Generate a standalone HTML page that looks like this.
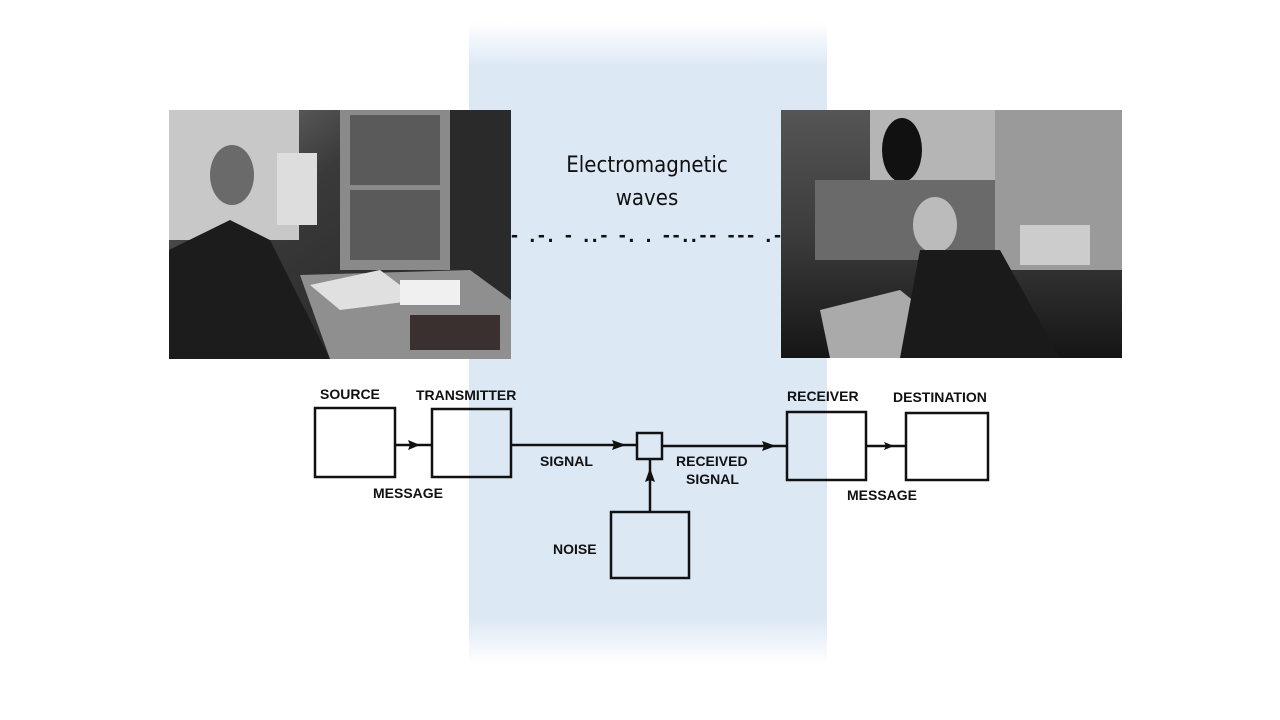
<!DOCTYPE html>
<html><head><style>
html,body{margin:0;padding:0;background:#fff;width:1280px;height:720px;overflow:hidden}
</style></head><body>
<svg width="1280" height="720" viewBox="0 0 1280 720" xmlns="http://www.w3.org/2000/svg" font-family="Liberation Sans, sans-serif">
<defs>
<linearGradient id="band" x1="0" y1="0" x2="0" y2="1">
<stop offset="0" stop-color="#dde8f5" stop-opacity="0"/>
<stop offset="0.07" stop-color="#dde8f5" stop-opacity="1"/>
<stop offset="0.93" stop-color="#dde8f5" stop-opacity="1"/>
<stop offset="1" stop-color="#dde8f5" stop-opacity="0"/>
</linearGradient>
<linearGradient id="lp" x1="0" y1="0" x2="1" y2="1">
<stop offset="0" stop-color="#777"/><stop offset="0.35" stop-color="#3a3a3a"/><stop offset="1" stop-color="#222"/>
</linearGradient>
<linearGradient id="rp" x1="0" y1="0" x2="0" y2="1">
<stop offset="0" stop-color="#555"/><stop offset="0.5" stop-color="#3c3c3c"/><stop offset="1" stop-color="#151515"/>
</linearGradient>
</defs>
<rect x="469" y="22" width="358" height="642" fill="url(#band)"/>

<!-- left photo -->
<rect x="169" y="110" width="342" height="249" fill="url(#lp)"/>
<rect x="169" y="110" width="130" height="130" fill="#c8c8c8"/>
<rect x="340" y="110" width="110" height="160" fill="#8a8a8a"/>
<rect x="350" y="115" width="90" height="70" fill="#5a5a5a"/>
<rect x="350" y="190" width="90" height="70" fill="#5a5a5a"/>
<rect x="277" y="153" width="40" height="72" fill="#ddd"/>
<rect x="450" y="110" width="61" height="240" fill="#2a2a2a"/>
<polygon points="300,275 470,270 511,300 511,359 330,359" fill="#8f8f8f"/>
<polygon points="310,285 380,270 420,300 340,310" fill="#e0e0e0"/>
<rect x="400" y="280" width="60" height="25" fill="#f0f0f0"/>
<polygon points="169,250 230,220 270,240 300,300 330,359 169,359" fill="#1c1c1c"/>
<ellipse cx="232" cy="175" rx="22" ry="30" fill="#6a6a6a"/>
<rect x="410" y="315" width="90" height="35" fill="#3a3030"/>

<!-- right photo -->
<rect x="781" y="110" width="341" height="248" fill="url(#rp)"/>
<rect x="870" y="110" width="130" height="70" fill="#b5b5b5"/>
<ellipse cx="902" cy="150" rx="20" ry="32" fill="#111"/>
<rect x="995" y="110" width="127" height="160" fill="#9a9a9a"/>
<rect x="815" y="180" width="180" height="80" fill="#6a6a6a"/>
<polygon points="820,310 900,290 950,330 900,358 830,358" fill="#aaa"/>
<ellipse cx="935" cy="225" rx="22" ry="28" fill="#bbb"/>
<polygon points="920,250 1000,250 1060,358 900,358" fill="#1a1a1a"/>
<rect x="1020" y="225" width="70" height="40" fill="#ccc"/>

<!-- text -->
<text x="647" y="172" text-anchor="middle" font-size="22" fill="#111" font-family="DejaVu Sans Condensed, Liberation Sans, sans-serif">Electromagnetic</text>
<text x="647" y="205" text-anchor="middle" font-size="22" fill="#111" font-family="DejaVu Sans Condensed, Liberation Sans, sans-serif">waves</text>
<text x="511" y="242" font-size="21" font-weight="bold" fill="#111" textLength="270" lengthAdjust="spacing">- .-. - ..- -. . --..-- --- .-</text>

<!-- diagram -->
<g stroke="#111" stroke-width="2.5" fill="none">
<rect x="315" y="408" width="80" height="69"/>
<rect x="432" y="409" width="79" height="68"/>
<rect x="637" y="433" width="25" height="26"/>
<rect x="787" y="412" width="79" height="68"/>
<rect x="906" y="413" width="82" height="67"/>
<rect x="611" y="512" width="78" height="66"/>
<line x1="395" y1="445" x2="432" y2="445"/>
<line x1="511" y1="445" x2="637" y2="445"/>
<line x1="662" y1="446" x2="787" y2="446"/>
<line x1="866" y1="446" x2="906" y2="446"/>
<line x1="650" y1="512" x2="650" y2="459"/>
</g>
<g fill="#111">
<polygon points="420,445 408,440 410,445 408,450"/>
<polygon points="626,445 612,440 614,445 612,450"/>
<polygon points="776,446 762,441 764,446 762,451"/>
<polygon points="894,446 884,442 886,446 884,450"/>
<polygon points="650,468 645,482 650,480 655,482"/>
</g>
<g font-size="14" font-weight="bold" fill="#111">
<text x="320" y="399">SOURCE</text>
<text x="416" y="400">TRANSMITTER</text>
<text x="373" y="498">MESSAGE</text>
<text x="540" y="466">SIGNAL</text>
<text x="676" y="466">RECEIVED</text>
<text x="686" y="484">SIGNAL</text>
<text x="787" y="401">RECEIVER</text>
<text x="893" y="402">DESTINATION</text>
<text x="847" y="500">MESSAGE</text>
<text x="553" y="554">NOISE</text>
</g>
</svg>
</body></html>
